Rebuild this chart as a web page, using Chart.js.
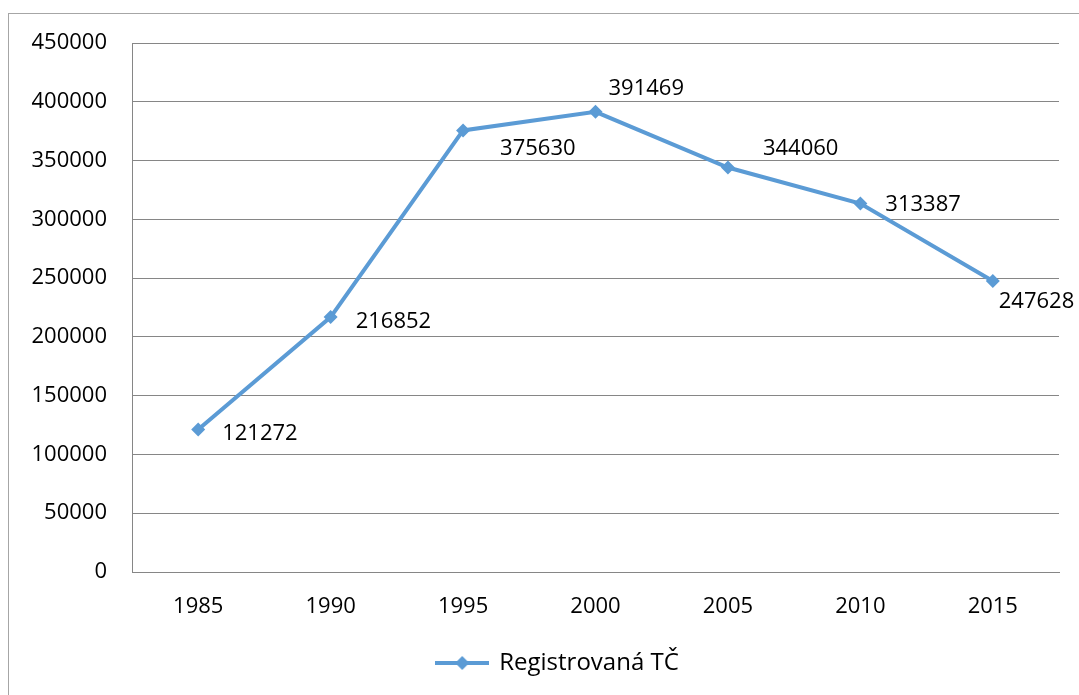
<!DOCTYPE html>
<html>
<head>
<meta charset="utf-8">
<script src="https://cdn.jsdelivr.net/npm/chart.js"></script>
<style>
  html, body { margin: 0; padding: 0; background: #fff; overflow: hidden; width: 1079px; height: 695px; }
  #frame { position: absolute; left: 8px; top: 13px; width: 1100px; height: 710px; border: 1px solid #a6a6a6; box-sizing: border-box; }
  #frame canvas { display: block; }
</style>
</head>
<body>
<div id="frame"><canvas id="chart" width="1098" height="708"></canvas></div>
<script>
// ====== DATA ======
const years = ["1985", "1990", "1995", "2000", "2005", "2010", "2015"];
const registrovaneTC = [121272, 216852, 375630, 391469, 344060, 313387, 247628];
const seriesName = "Registrovaná TČ";
const yTicks = [0, 50000, 100000, 150000, 200000, 250000, 300000, 350000, 400000, 450000];

// label placement (dx, dy from the point), like Excel put them
const labelOffsets = [[24, 4], [25, 5], [37, 18], [13, -23], [35, -19], [25, 1], [6, 21]];

const BLUE = "#5b9bd5";
const FONT = "'Open Sans', sans-serif";

// ====== LEGEND MARKER (line + diamond) ======
function makeLegendMarker() {
  const c = document.createElement("canvas");
  c.width = 54;
  c.height = 16;
  const g = c.getContext("2d");
  g.strokeStyle = BLUE;
  g.lineWidth = 4;
  g.beginPath();
  g.moveTo(0, 8);
  g.lineTo(54, 8);
  g.stroke();
  g.fillStyle = BLUE;
  g.beginPath();
  g.moveTo(27, 1);
  g.lineTo(34, 8);
  g.lineTo(27, 15);
  g.lineTo(20, 8);
  g.closePath();
  g.fill();
  return c;
}

// ====== DATA LABELS ======
const valueLabels = {
  id: "valueLabels",
  afterDatasetsDraw(chart) {
    const ctx = chart.ctx;
    const meta = chart.getDatasetMeta(0);
    ctx.save();
    ctx.font = "22px " + FONT;
    ctx.fillStyle = "#000";
    ctx.textAlign = "left";
    ctx.textBaseline = "middle";
    meta.data.forEach((pt, i) => {
      const off = labelOffsets[i] || [10, 0];
      ctx.fillText(String(chart.data.datasets[0].data[i]), pt.x + off[0], pt.y + off[1]);
    });
    ctx.restore();
  }
};

// legend is centred on the whole frame, not on the shifted plot
const centerLegend = {
  id: "centerLegend",
  afterLayout(chart) {
    if (chart.legend) chart.legend.left = 48;
  }
};

const legendMarker = makeLegendMarker();

new Chart(document.getElementById("chart").getContext("2d"), {
  type: "line",
  data: {
    labels: years,
    datasets: [{
      label: seriesName,
      data: registrovaneTC,
      borderColor: BLUE,
      backgroundColor: BLUE,
      borderWidth: 4,
      pointStyle: "rectRot",
      pointRadius: 7,
      pointHoverRadius: 7,
      pointBackgroundColor: BLUE,
      pointBorderColor: BLUE,
      pointBorderWidth: 0,
      tension: 0
    }]
  },
  options: {
    responsive: false,
    animation: false,
    layout: { padding: { left: 0, top: 29, right: 48, bottom: 37 } },
    plugins: {
      tooltip: { enabled: false },
      legend: {
        position: "bottom",
        labels: {
          usePointStyle: true,
          pointStyleWidth: 50,
          padding: 10,
          color: "#000",
          font: { family: FONT, size: 24 },
          generateLabels(chart) {
            return [{
              text: seriesName,
              pointStyle: legendMarker,
              fillStyle: BLUE,
              strokeStyle: BLUE,
              lineWidth: 0,
              datasetIndex: 0
            }];
          }
        }
      }
    },
    scales: {
      x: {
        offset: true,
        grid: { display: false, drawTicks: false },
        border: { display: true, color: "#868686", width: 1 },
        ticks: { color: "#000", padding: 22, font: { family: FONT, size: 22 } },
        afterFit(scale) { scale.height = 69; }
      },
      y: {
        min: 0,
        max: 450000,
        afterBuildTicks(scale) { scale.ticks = yTicks.map(v => ({ value: v })); },
        grid: { color: "#868686", lineWidth: 1, drawTicks: false },
        border: { display: true, color: "#868686", width: 1 },
        ticks: {
          color: "#000",
          padding: 25,
          font: { family: FONT, size: 22 },
          callback: (value) => String(value)
        },
        afterFit(scale) {
          scale.width = 123;
          scale.paddingTop = 0;
          scale.paddingBottom = 0;
        }
      }
    }
  },
  plugins: [valueLabels, centerLegend]
});
</script>
</body>
</html>
